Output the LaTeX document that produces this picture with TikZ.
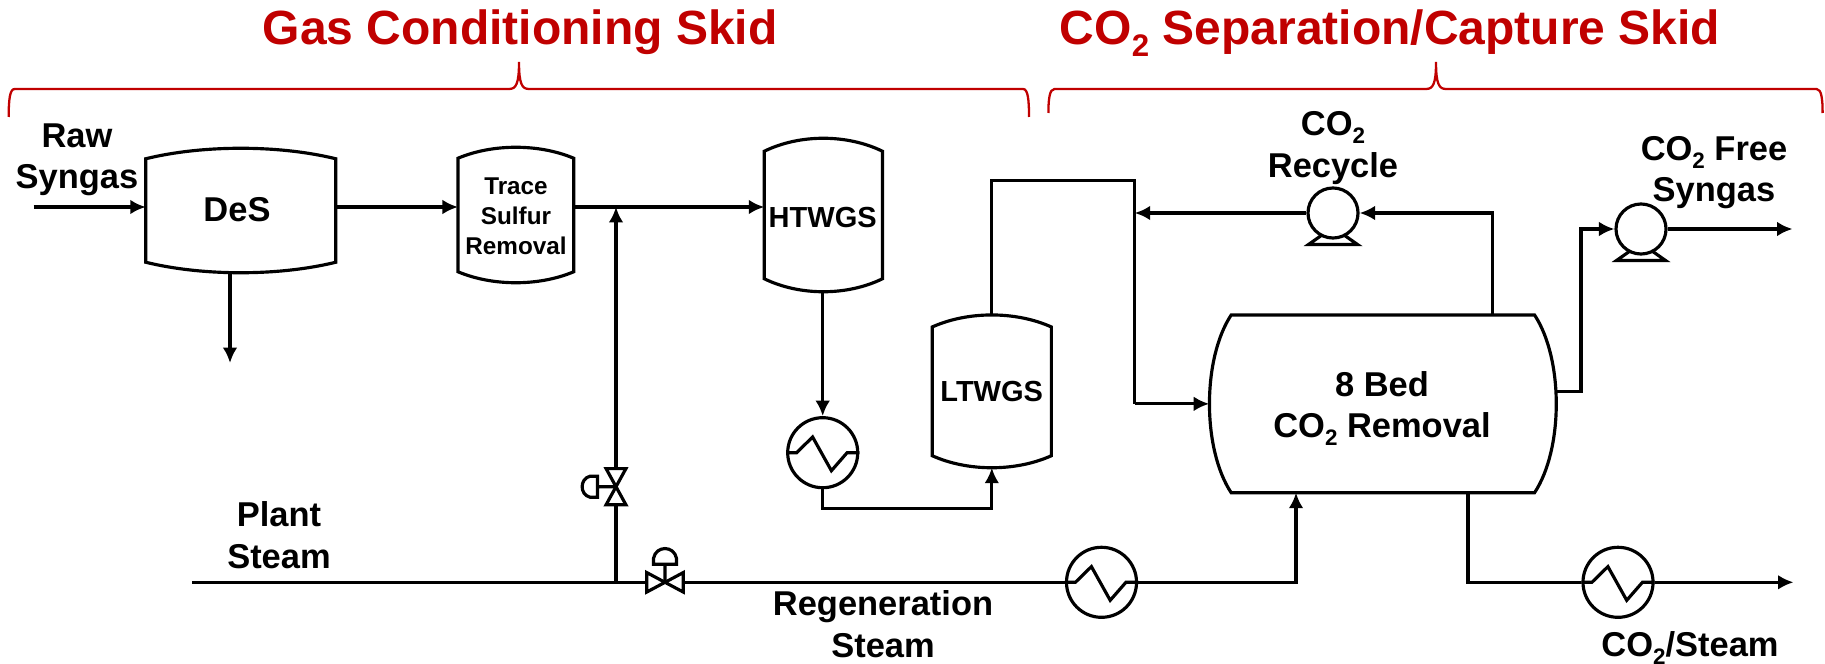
\documentclass[tikz,border=0pt]{standalone}
\usepackage{fontspec}
\setmainfont{Liberation Sans}
\usetikzlibrary{arrows.meta,calc}
\definecolor{skidred}{HTML}{C00000}
\newcommand{\COtwo}{CO\raisebox{-0.24em}{\scalebox{0.65}{2}}}
\tikzset{
  pipe/.style={line width=0.9pt},
  flow/.style={pipe,-{Latex[length=4.4pt,width=4.2pt]}},
  vessel/.style={inner sep=0pt},
  pump/.style={draw,pipe,circle,inner sep=0pt,minimum size=0.5cm},
  exch/.style={draw,pipe,circle,inner sep=0pt,minimum size=0.7cm},
  valve/.style={inner sep=0pt},
  lbl/.style={inner sep=0pt,anchor=base,align=center,font=\bfseries\fontsize{9.8}{11.8}\selectfont},
  skid/.style={inner sep=0pt,anchor=base,text=skidred,font=\bfseries\fontsize{13.65}{16}\selectfont}
}
\begin{document}
\begin{tikzpicture}[x=0.01cm,y=-0.01cm]
  \useasboundingbox (0,0) rectangle (1825,664);
  \node[vessel,minimum width=1.885cm,minimum height=1.23cm] (des) at (240.75,210.5) {};
  \node[vessel,minimum width=1.143cm,minimum height=1.34cm] (trace) at (515.85,215) {};
  \node[vessel,minimum width=1.167cm,minimum height=1.52cm] (htwgs) at (823.35,215) {};
  \node[vessel,minimum width=1.176cm,minimum height=1.513cm] (ltwgs) at (991.8,391.35) {};
  \node[vessel,minimum width=3.457cm,minimum height=1.763cm] (bed) at (1382.85,403.85) {};
  \foreach \V/\b in {des/10.5,trace/11,htwgs/13,ltwgs/12}
    \draw[pipe] ($(\V.north west)+(0,\b)$)
      .. controls ($(\V.north west)!.3!(\V.north east)+(0,-\b/3)$) and ($(\V.north west)!.7!(\V.north east)+(0,-\b/3)$) .. ($(\V.north east)+(0,\b)$)
      -- ($(\V.south east)+(0,-\b)$)
      .. controls ($(\V.south west)!.7!(\V.south east)+(0,\b/3)$) and ($(\V.south west)!.3!(\V.south east)+(0,\b/3)$) .. ($(\V.south west)+(0,-\b)$)
      -- cycle;
  \draw[pipe] ($(bed.north west)+(22,0)$) -- ($(bed.north east)+(-22,0)$)
    .. controls ($(bed.east)+(7,-45)$) and ($(bed.east)+(7,45)$) .. ($(bed.south east)+(-22,0)$)
    -- ($(bed.south west)+(22,0)$)
    .. controls ($(bed.west)+(-7,45)$) and ($(bed.west)+(-7,-45)$) .. cycle;
  \node[exch] (hxa) at (822.7,452.7) {};
  \node[exch] (hxb) at (1101.5,582.3) {};
  \node[exch] (hxc) at (1618,582.3) {};
  \foreach \H in {hxa,hxb,hxc}
    \draw[pipe] (\H.west) -- ++(10.5,0) -- ++(16,-15.7) -- ++(18.8,33.7) -- ++(15.7,-18) -- (\H.east);
  \node[pump] (pumpa) at (1333,213) {};
  \node[pump] (pumpb) at (1641,229) {};
  \foreach \P in {pumpa,pumpb}
    \draw[pipe,shift={(\P)}] (-11,22) -- (-24.5,31.5) -- (24.5,31.5) -- (11,22);
  \node[valve,minimum width=0.184cm,minimum height=0.347cm] (vala) at (616,486.7) {};
  \node[valve,minimum width=0.35cm,minimum height=0.18cm] (valb) at (665,582.3) {};
  \draw[pipe] (vala.north west) -- (vala.north east) -- (vala.south west) -- (vala.south east) -- cycle;
  \draw[pipe] (valb.north west) -- (valb.south west) -- (valb.north east) -- (valb.south east) -- cycle;
  \draw[pipe,shift={(vala)}] (0,0) -- (-18.5,0) (-18.5,-10.5) -- (-26,-10.5) .. controls (-36.5,-8) and (-36.5,8) .. (-26,10.5) -- (-18.5,10.5) -- cycle;
  \draw[pipe,shift={(valb)}] (0,0) -- (0,-18) (-11.5,-18) -- (-11.5,-24) .. controls (-9,-37) and (9,-37) .. (11.5,-24) -- (11.5,-18) -- cycle;
  \path (33.6,207) coordinate (raw) (230,363) coordinate (desout) (616,207) coordinate (tee)
    (192,582.3) coordinate (plant) (616,582.3) coordinate (branch) (822.7,508.3) coordinate (low)
    (991.7,180.7) coordinate (shiftin) (1134.7,180.7) coordinate (rejoin) (1134.7,403.85) coordinate (feed)
    (1492.5,213) coordinate (topout) (1296,582.3) coordinate (regen) (1468,582.3) coordinate (botout)
    (1793.5,582.3) coordinate (steamout) (1581,391.7) coordinate (sidea) (1581,229) coordinate (sideb)
    (1792.5,229) coordinate (freeout) (1555,391.7) coordinate (bedside);
  \draw[flow] (raw) -- (des.west |- raw);
  \draw[flow] (des.east |- raw) -- (trace.west |- raw);
  \draw[flow] (des.south -| desout) -- (desout);
  \draw[flow] (trace.east |- tee) -- (htwgs.west |- tee);
  \draw[flow] (vala.north) -- (tee);
  \draw[pipe] (branch) -- (vala.south);
  \draw[pipe] (plant) -- (valb.west);
  \draw[pipe] (valb.east) -- (hxb.west);
  \draw[flow] (hxb.east) -- (regen) -- (bed.south -| regen);
  \draw[flow] (htwgs.south -| hxa) -- (hxa.north);
  \draw[flow] (hxa.south) -- (low) -| (ltwgs.south);
  \draw[pipe] (ltwgs.north -| shiftin) -- (shiftin) -- (rejoin) -- (feed);
  \draw[flow] (feed) -- (bed.west);
  \draw[flow] (pumpa.west) -- (rejoin |- pumpa);
  \draw[flow] (bed.north -| topout) -- (topout) -- (pumpa.east);
  \draw[flow] (bedside) -- (sidea) -- (sideb) -- (pumpb.west);
  \draw[flow] (pumpb.east) -- (freeout);
  \draw[pipe] (bed.south -| botout) -- (botout) -- (hxc.west);
  \draw[flow] (hxc.east) -- (steamout);
  \foreach \xa/\xb/\xc/\yb in {8.7/519/1029/117,1048.4/1436/1822.6/113}
    \draw[skidred,line width=0.65pt] (\xa,\yb) .. controls (\xa,100) and (\xa+1,89) .. (\xa+6,89)
      -- (\xb-10,89) .. controls (\xb-3,89) and (\xb,84) .. (\xb,62)
      .. controls (\xb,84) and (\xb+3,89) .. (\xb+10,89)
      -- (\xc-6,89) .. controls (\xc-1,89) and (\xc,100) .. (\xc,\yb);
  \node[skid] (gastitle) at (520,45) {Gas Conditioning Skid};
  \node[skid] (co2title) at (1390,45) {\COtwo{} Separation/Capture Skid};
  \node[lbl] (raw lbl) at (77,189) {Raw\\Syngas};
  \node[lbl] (des lbl) at (237,221) {DeS};
  \node[lbl,font=\bfseries\fontsize{6.9}{8.4}\selectfont] (trace lbl) at (516,254) {Trace\\Sulfur\\Removal};
  \node[lbl,font=\bfseries\fontsize{8.25}{10}\selectfont] (htwgs lbl) at (822.7,228) {HTWGS};
  \node[lbl,font=\bfseries\fontsize{8.25}{10}\selectfont] (ltwgs lbl) at (991.7,401.7) {LTWGS};
  \node[lbl] (bed lbl) at (1382,437.7) {8 Bed\\\COtwo{} Removal};
  \node[lbl] (plant lbl) at (279,568) {Plant\\Steam};
  \node[lbl] (regen lbl) at (883,657) {Regeneration\\Steam};
  \node[lbl] (recycle lbl) at (1333,177) {\COtwo\\Recycle};
  \node[lbl] (free lbl) at (1714,202) {\COtwo{} Free\\Syngas};
  \node[lbl] (steam lbl) at (1690,656) {\COtwo/Steam};
\end{tikzpicture}
\end{document}
